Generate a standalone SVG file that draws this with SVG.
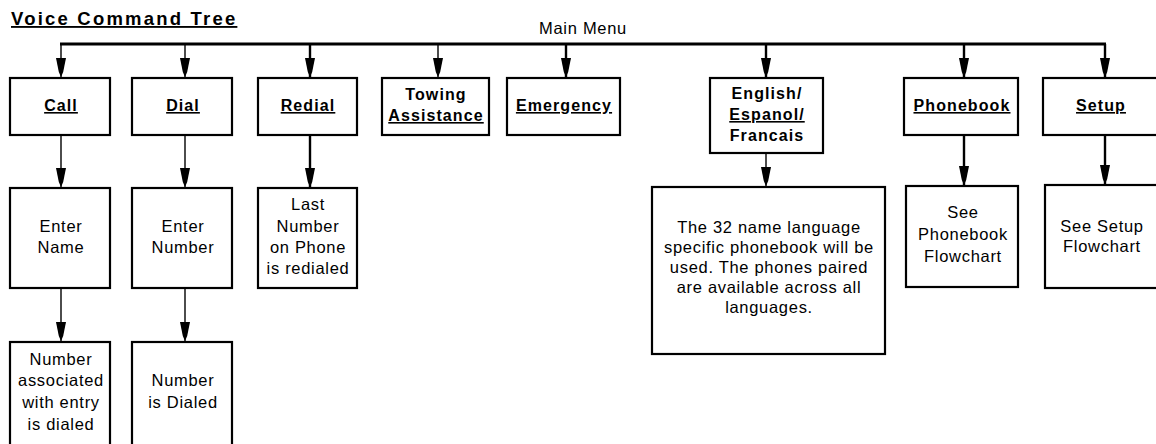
<svg xmlns="http://www.w3.org/2000/svg" width="1156" height="444" viewBox="0 0 1156 444">
<defs>
<style>
.box{fill:#fff;stroke:#000;stroke-width:2.2}
.ln{fill:none;stroke:#000;stroke-width:1.4}
.lk{fill:none;stroke:#000;stroke-width:2.4}
.bar{fill:none;stroke:#000;stroke-width:2.8}
.ti{font-family:"Liberation Sans",Arial,sans-serif;font-weight:bold;font-size:18.5px;letter-spacing:2.2px;text-decoration:underline}
.b{font-family:"Liberation Sans",Arial,sans-serif;font-weight:bold;font-size:16px;letter-spacing:1.1px;text-anchor:middle}
.u{text-decoration:underline}
.r{font-family:"Liberation Sans",Arial,sans-serif;font-size:16.5px;letter-spacing:0.7px;text-anchor:middle}
</style>
<marker id="ah" markerUnits="userSpaceOnUse" markerWidth="12" markerHeight="22" viewBox="-6 -21 12 22" refX="0" refY="0" orient="auto-start-reverse" overflow="visible">
<path d="M-5,-19 L5,-19 L2.2,-5 L0,0 L-2.2,-5 Z" fill="#000" transform="rotate(-90)"/>
</marker>
</defs>
<rect width="1156" height="444" fill="#fff"/>
<text class="ti" x="11" y="25">Voice Command Tree</text>
<text class="r" x="583" y="34">Main Menu</text>

<g id="connectors">
<line class="bar" x1="60" y1="44" x2="1106" y2="44"/>
<line class="ln" x1="61" y1="44" x2="61" y2="77" marker-end="url(#ah)"/>
<line class="ln" x1="185" y1="44" x2="185" y2="77" marker-end="url(#ah)"/>
<line class="lk" x1="310" y1="44" x2="310" y2="77" marker-end="url(#ah)"/>
<line class="ln" x1="438" y1="44" x2="438" y2="77" marker-end="url(#ah)"/>
<line class="lk" x1="566" y1="44" x2="566" y2="77" marker-end="url(#ah)"/>
<line class="lk" x1="766" y1="44" x2="766" y2="77" marker-end="url(#ah)"/>
<line class="lk" x1="964" y1="44" x2="964" y2="77" marker-end="url(#ah)"/>
<line class="lk" x1="1105" y1="44" x2="1105" y2="77" marker-end="url(#ah)"/>
<line class="ln" x1="61" y1="135" x2="61" y2="187" marker-end="url(#ah)"/>
<line class="ln" x1="185" y1="135" x2="185" y2="187" marker-end="url(#ah)"/>
<line class="lk" x1="310" y1="135" x2="310" y2="187" marker-end="url(#ah)"/>
<line class="ln" x1="766" y1="153" x2="766" y2="186" marker-end="url(#ah)"/>
<line class="lk" x1="964" y1="135" x2="964" y2="185" marker-end="url(#ah)"/>
<line class="lk" x1="1105" y1="135" x2="1105" y2="184" marker-end="url(#ah)"/>
<line class="ln" x1="61" y1="288" x2="61" y2="341" marker-end="url(#ah)"/>
<line class="ln" x1="185" y1="288" x2="185" y2="341" marker-end="url(#ah)"/>
</g>

<g id="call"><rect class="box" x="10" y="78" width="100" height="57"/><text class="b" x="61" y="111"><tspan class="u">Call</tspan></text></g>
<g id="dial"><rect class="box" x="132" y="78" width="100" height="57"/><text class="b" x="183" y="111"><tspan class="u">Dial</tspan></text></g>
<g id="redial"><rect class="box" x="258" y="78" width="99" height="57"/><text class="b" x="308" y="111"><tspan class="u">Redial</tspan></text></g>
<g id="towing"><rect class="box" x="382" y="78" width="107" height="57"/><text class="b" x="436" y="100">Towing</text><text class="b" x="436" y="121"><tspan class="u">Assistance</tspan></text></g>
<g id="emergency"><rect class="box" x="507" y="78" width="113" height="57"/><text class="b" x="564" y="111"><tspan class="u">Emergency</tspan></text></g>
<g id="language"><rect class="box" x="710" y="78" width="113" height="75"/><text class="b" x="767" y="99">English/</text><text class="b" x="767" y="120"><tspan class="u">Espanol/</tspan></text><text class="b" x="767" y="141">Francais</text></g>
<g id="phonebook"><rect class="box" x="904" y="78" width="114" height="57"/><text class="b" x="962" y="111"><tspan class="u">Phonebook</tspan></text></g>
<g id="setup"><rect class="box" x="1043" y="78" width="116" height="57"/><text class="b" x="1101" y="111"><tspan class="u">Setup</tspan></text></g>

<g id="enter-name"><rect class="box" x="10" y="188" width="100" height="100"/><text class="r" x="61" y="232">Enter</text><text class="r" x="61" y="253">Name</text></g>
<g id="enter-number"><rect class="box" x="132" y="188" width="100" height="100"/><text class="r" x="183" y="232">Enter</text><text class="r" x="183" y="253">Number</text></g>
<g id="last-number"><rect class="box" x="258" y="188" width="99" height="100"/><text class="r" x="308" y="210">Last</text><text class="r" x="308" y="231.5">Number</text><text class="r" x="308" y="253">on Phone</text><text class="r" x="308" y="274">is redialed</text></g>
<g id="language-note"><rect class="box" x="652" y="187" width="233" height="167"/><text class="r" x="769" y="233">The 32 name language</text><text class="r" x="769" y="253">specific phonebook will be</text><text class="r" x="769" y="273">used. The phones paired</text><text class="r" x="769" y="293">are available across all</text><text class="r" x="769" y="313">languages.</text></g>
<g id="see-phonebook"><rect class="box" x="906" y="186" width="112" height="101"/><text class="r" x="963" y="218">See</text><text class="r" x="963" y="240">Phonebook</text><text class="r" x="963" y="262">Flowchart</text></g>
<g id="see-setup"><rect class="box" x="1045" y="185" width="116" height="103"/><text class="r" x="1102" y="232">See Setup</text><text class="r" x="1102" y="252">Flowchart</text></g>

<g id="number-associated"><rect class="box" x="10" y="342" width="100" height="112"/><text class="r" x="61" y="365">Number</text><text class="r" x="61" y="386">associated</text><text class="r" x="61" y="408">with entry</text><text class="r" x="61" y="430">is dialed</text></g>
<g id="number-dialed"><rect class="box" x="132" y="342" width="100" height="112"/><text class="r" x="183" y="386">Number</text><text class="r" x="183" y="408">is Dialed</text></g>
</svg>
